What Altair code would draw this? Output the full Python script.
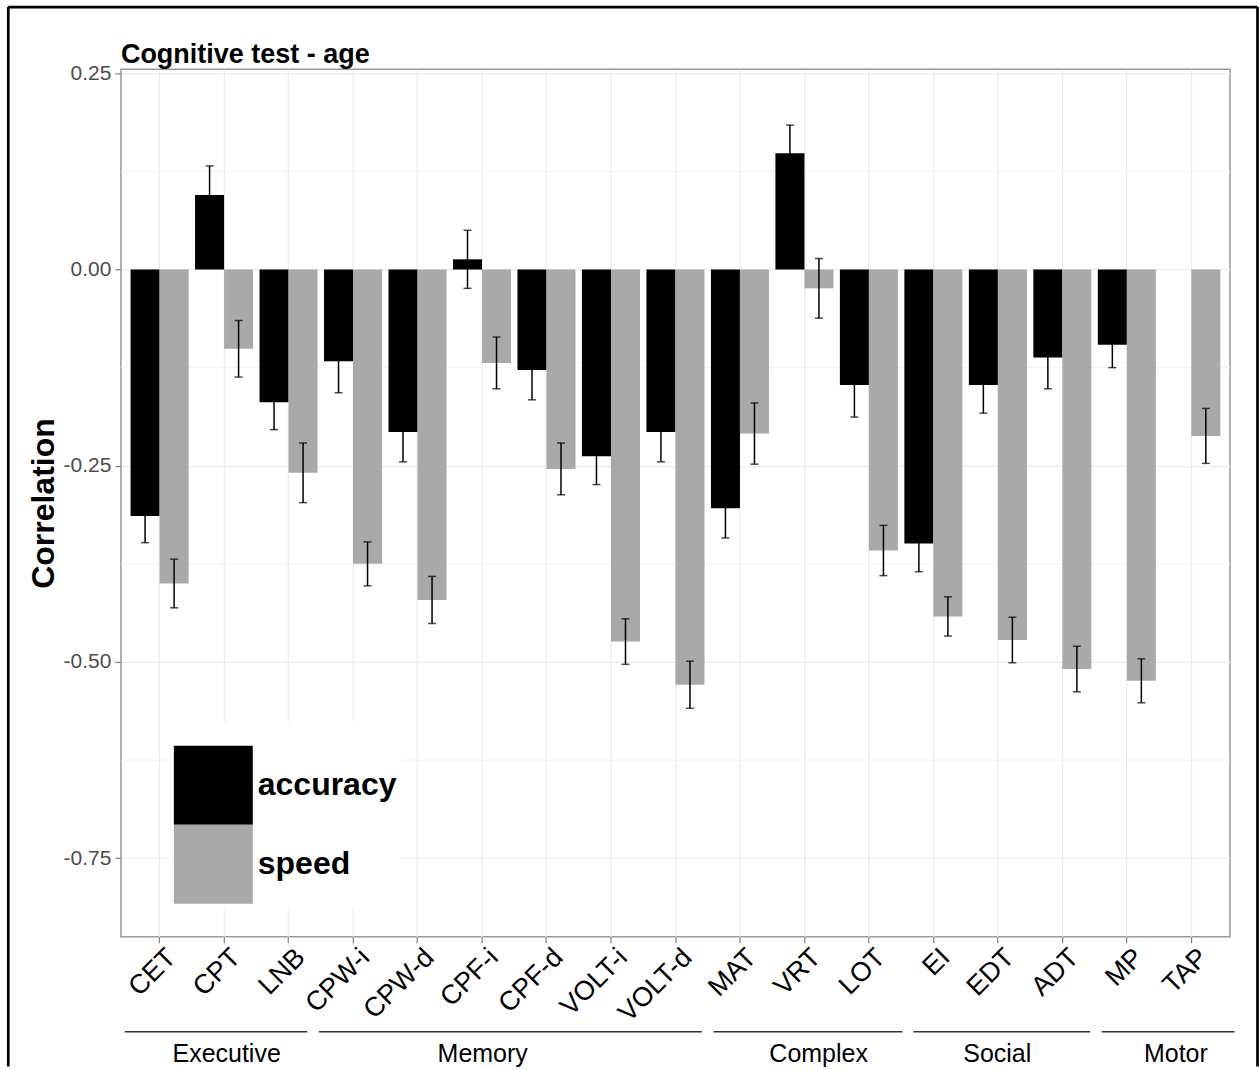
import altair as alt
import pandas as pd

# Cognitive tests, in display order
tests = ["CET", "CPT", "LNB", "CPW-i", "CPW-d", "CPF-i", "CPF-d", "VOLT-i", "VOLT-d",
         "MAT", "VRT", "LOT", "EI", "EDT", "ADT", "MP", "TAP"]
measures = ["accuracy", "speed"]

# Correlation with age and its standard error (TAP has no accuracy score)
accuracy = [-0.314, 0.095, -0.169, -0.117, -0.207, 0.013, -0.128, -0.238, -0.207,
            -0.304, 0.148, -0.147, -0.349, -0.147, -0.112, -0.096, None]
accuracy_se = [0.034, 0.037, 0.035, 0.040, 0.038, 0.037, 0.038, 0.036, 0.038,
               0.038, 0.036, 0.041, 0.036, 0.036, 0.040, 0.029, None]
speed = [-0.400, -0.101, -0.259, -0.375, -0.421, -0.119, -0.254, -0.474, -0.529,
         -0.209, -0.024, -0.358, -0.442, -0.472, -0.509, -0.524, -0.212]
speed_se = [0.031, 0.036, 0.038, 0.028, 0.030, 0.033, 0.033, 0.029, 0.030,
            0.039, 0.038, 0.032, 0.025, 0.029, 0.029, 0.028, 0.035]

# Domain brackets under the axis, in test-index units
domains = ["Executive", "Memory", "Complex", "Social", "Motor"]
domain_start = [-0.54, 2.47, 8.59, 11.69, 14.61]
domain_end = [2.29, 8.41, 11.52, 14.43, 16.67]
domain_label_at = [1.04, 5.01, 10.22, 12.99, 15.76]

y_major = [-0.75, -0.5, -0.25, 0.0, 0.25]
y_minor = [-0.625, -0.375, -0.125, 0.125]

FONT = "Liberation Sans"
W, H = 1110, 868
Y_TITLE = "Correlation"

rows = []
for i, t in enumerate(tests):
    for m, vals, ses in (("accuracy", accuracy, accuracy_se), ("speed", speed, speed_se)):
        if vals[i] is None:
            continue
        rows.append({"test": t, "measure": m, "r": vals[i],
                     "lo": vals[i] - ses[i], "hi": vals[i] + ses[i]})
df = pd.DataFrame(rows)
caps = df.melt(id_vars=["test", "measure"], value_vars=["lo", "hi"], value_name="end")

y_scale = alt.Scale(domain=[-0.85, 0.255], nice=False, zero=False)
x_scale = alt.Scale(paddingInner=0, paddingOuter=0.1)
off = alt.XOffset("measure:N", sort=measures,
                  scale=alt.Scale(domain=measures, paddingInner=0, paddingOuter=0.111))

x_axis = alt.Axis(bandPosition=0.5, grid=True, gridColor="#EBEBEB", gridWidth=1.2,
                  labelAngle=-45, labelAlign="right", labelBaseline="top",
                  labelFontSize=27, labelColor="#000000", labelPadding=1, labelOffset=3,
                  tickSize=6, tickColor="#7F7F7F", tickWidth=1.2, domain=False)
# plain hyphen for negative tick labels
y_axis = alt.Axis(values=y_major,
                  labelExpr="replace(format(datum.value, '.2f'), '\u2212', '-')",
                  grid=True, gridColor="#EBEBEB", gridWidth=1.2,
                  labelFontSize=21, labelColor="#4D4D4D", labelPadding=4,
                  tickSize=6, tickColor="#7F7F7F", tickWidth=1.2, domain=False,
                  titleFontSize=32, titleFontWeight="bold", titleColor="#000000",
                  titlePadding=3)

minor_grid = alt.Chart(pd.DataFrame({"minor": y_minor})).mark_rule(
    color="#F3F3F3", strokeWidth=1).encode(
    y=alt.Y("minor:Q", scale=y_scale, title=Y_TITLE, axis=y_axis))

bars = alt.Chart(df).mark_bar().encode(
    x=alt.X("test:N", sort=tests, scale=x_scale, title=None, axis=x_axis),
    xOffset=off,
    y=alt.Y("r:Q", scale=y_scale, title=Y_TITLE, axis=y_axis),
    y2=alt.datum(0),
    color=alt.Color("measure:N", sort=measures,
                    scale=alt.Scale(domain=measures, range=["#000000", "#A9A9A9"]),
                    legend=alt.Legend(title=" ", titleFontSize=14, titlePadding=5,
                                      orient="none", legendX=48, legendY=653,
                                      direction="vertical",
                                      symbolType="square", symbolSize=6241,
                                      symbolStrokeWidth=0, symbolOpacity=1,
                                      labelFontSize=32, labelFontWeight="bold",
                                      labelColor="#000000", labelOffset=5,
                                      rowPadding=0, padding=5, fillColor="#FFFFFF")),
)

err_x = alt.X("test:N", sort=tests, scale=x_scale, title=None, axis=x_axis)
whiskers = alt.Chart(df).mark_rule(color="#000000", strokeWidth=1.5).encode(
    x=err_x, xOffset=off,
    y=alt.Y("lo:Q", scale=y_scale, title=Y_TITLE, axis=y_axis), y2="hi:Q",
)
whisker_caps = alt.Chart(caps).mark_tick(color="#000000", size=8, thickness=1.5).encode(
    x=err_x, xOffset=off,
    y=alt.Y("end:Q", scale=y_scale, title=Y_TITLE, axis=y_axis),
)

main = alt.layer(bars, whiskers, whisker_caps)

gdf = pd.DataFrame({"name": domains, "start": domain_start, "end": domain_end,
                    "mid": domain_label_at})
gx = alt.Scale(domain=[-0.6, 16.6], nice=False, zero=False)
bracket_lines = alt.Chart(gdf).mark_rule(color="#333333", strokeWidth=1.5).encode(
    x=alt.X("start:Q", scale=gx, axis=None), x2="end:Q",
    y=alt.YDatum(-0.971, title=Y_TITLE, axis=y_axis),
)
bracket_text = alt.Chart(gdf).mark_text(fontSize=25, font=FONT, color="#000000",
                                        baseline="middle").encode(
    x=alt.X("mid:Q", scale=gx, axis=None),
    y=alt.YDatum(-1.0, title=Y_TITLE, axis=y_axis),
    text="name:N",
)
brackets = alt.layer(bracket_lines, bracket_text)

# outer frame around the figure (left, top and right edges)
one = pd.DataFrame({"k": [0]})
frame_left = alt.Chart(one).mark_rule(color="#000000", strokeWidth=2.7).encode(
    x=alt.value(-112.7), y=alt.value(-62.3), y2=alt.value(998))
frame_top = alt.Chart(one).mark_rule(color="#000000", strokeWidth=2.7).encode(
    x=alt.value(-112.7), x2=alt.value(1137.5), y=alt.value(-62.3))
frame_right = alt.Chart(one).mark_rule(color="#000000", strokeWidth=2.7).encode(
    x=alt.value(1137.5), y=alt.value(-62.3), y2=alt.value(998))

chart = alt.layer(minor_grid, main, brackets, frame_left, frame_top, frame_right).resolve_scale(
    x="independent"
).properties(
    width=W, height=H,
    padding={"left": 6, "top": 5, "right": 0, "bottom": 0},
    title=alt.TitleParams("Cognitive test - age", anchor="start", frame="group",
                          fontSize=27, fontWeight="bold", font=FONT, color="#000000",
                          baseline="alphabetic", offset=-84.6),
).configure(
    font=FONT,
).configure_view(
    stroke="#999999", strokeWidth=1.5,
).configure_legend(
    labelFont=FONT, titleFont=FONT,
)

chart.save("out.html", embed_options={"renderer": "svg", "actions": False})
